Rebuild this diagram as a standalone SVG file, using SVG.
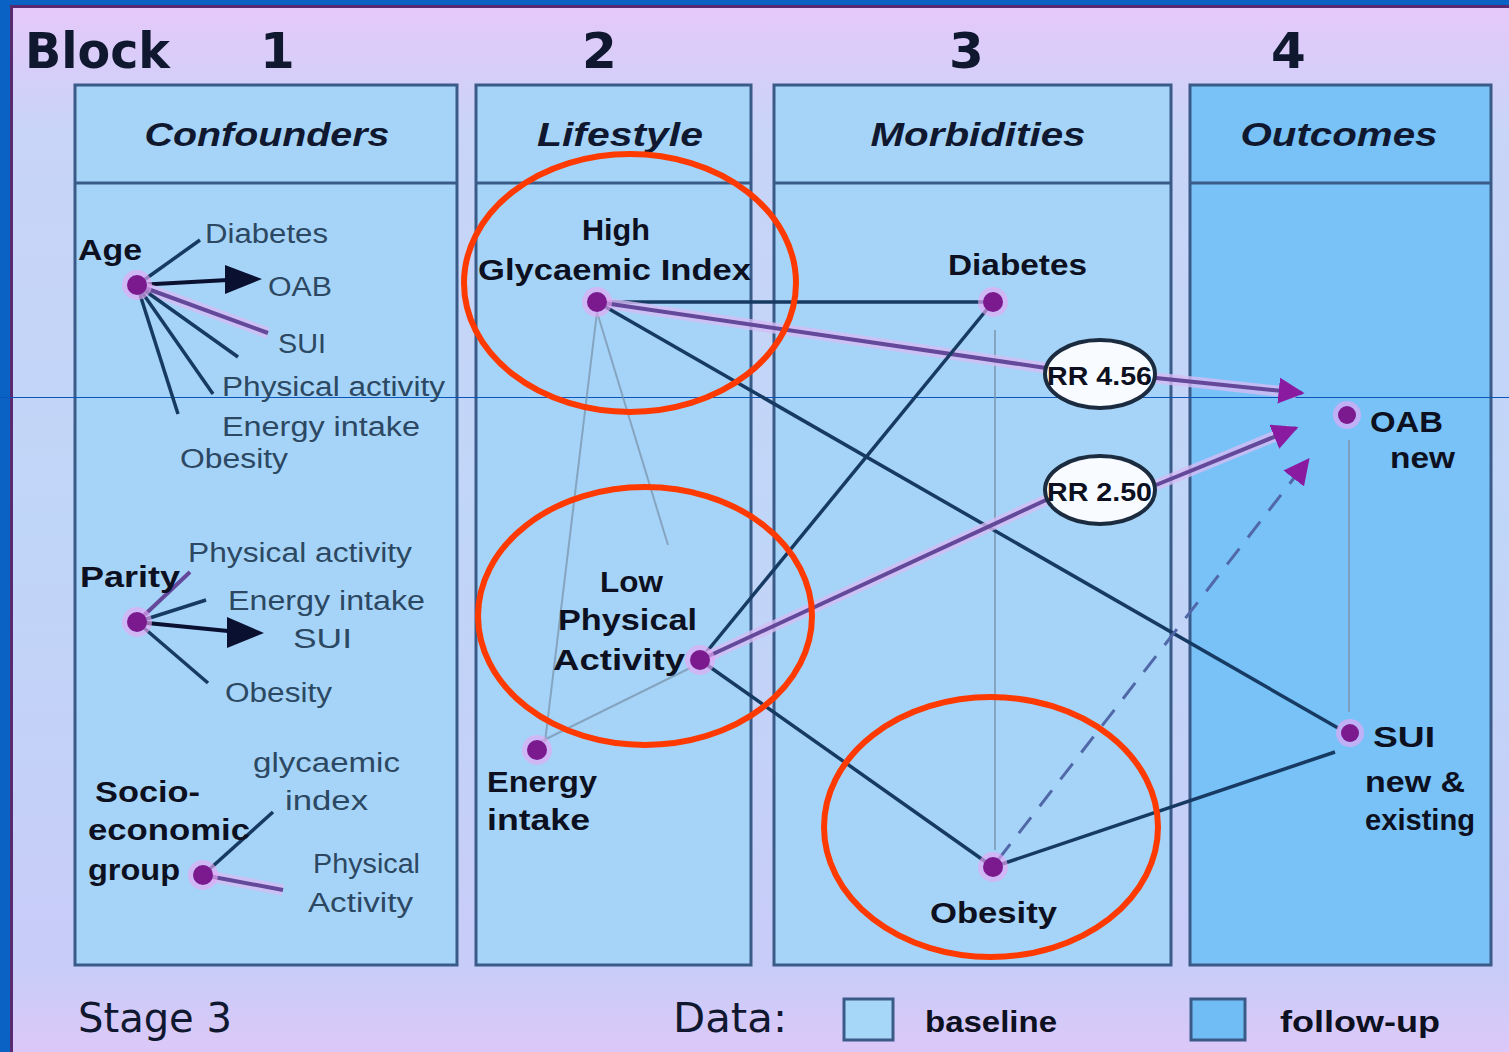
<svg xmlns="http://www.w3.org/2000/svg" width="1509" height="1052" viewBox="0 0 1509 1052">
  <defs>
    <linearGradient id="panelBg" x1="0" y1="0" x2="0" y2="1">
      <stop offset="0" stop-color="#e6c8fa"/>
      <stop offset="0.12" stop-color="#c8d4f8"/>
      <stop offset="0.5" stop-color="#c0d6f8"/>
      <stop offset="0.92" stop-color="#c8ccf8"/>
      <stop offset="1" stop-color="#dcc8f8"/>
    </linearGradient>
    <marker id="purpleHead" viewBox="0 0 10 10" refX="9" refY="5" markerWidth="26" markerHeight="26" markerUnits="userSpaceOnUse" orient="auto">
      <path d="M0,0 L10,5 L0,10 z" fill="#8a1aa0"/>
    </marker>
  </defs>
  <style>
    .col { fill: #a6d4f8; stroke: #3a5a88; stroke-width: 3; }
    .col4 { fill: #78c2f8; stroke: #3a5a88; stroke-width: 3; }
    .hdr { font-family: "Liberation Sans", Arial, sans-serif; font-size: 34px; font-weight: bold; font-style: italic; fill: #101830; text-anchor: middle; }
    .blk { font-family: "DejaVu Sans", "Liberation Sans", sans-serif; font-size: 50px; font-weight: bold; fill: #101830; }
    .sub { font-family: "Liberation Sans", Arial, sans-serif; font-size: 27px; fill: #2c4862; }
    .lbl { font-family: "Liberation Sans", Arial, sans-serif; font-size: 29px; font-weight: bold; fill: #0c1020; }
    .rr { font-family: "Liberation Sans", Arial, sans-serif; font-size: 25px; font-weight: bold; fill: #0c1020; }
    .foot { font-family: "DejaVu Sans", "Liberation Sans", sans-serif; font-size: 40px; fill: #101830; }
    .halo { fill: #e6a8f4; opacity: 0.65; }
    .dot { fill: #7a1a8e; }
    .dark { stroke: #163a62; stroke-width: 3.5; fill: none; }
    .purple { stroke: #64489a; stroke-width: 4; fill: none; }
    .glow { stroke: #d6bcf4; stroke-width: 11; fill: none; opacity: 0.8; }
    .dash { stroke: #5068a8; stroke-width: 3; fill: none; stroke-dasharray: 20 14; }
    .faint { stroke: #7a94ae; stroke-width: 2; fill: none; opacity: 0.75; }
    .ring { fill: none; stroke: #ff3a00; stroke-width: 6; }
  </style>

  <!-- slide background and panel -->
  <rect x="0" y="0" width="1509" height="1052" fill="#0a62c4"/>
  <rect x="10" y="5" width="1499" height="1047" fill="url(#panelBg)"/>
  <path d="M11.5,1052 V6.5 H1509" fill="none" stroke="#5a2a70" stroke-width="3"/>

  <!-- block numbers -->
  <g id="block-titles">
    <text class="blk" x="25" y="68" textLength="145" lengthAdjust="spacingAndGlyphs">Block</text>
    <text class="blk" x="260" y="68">1</text>
    <text class="blk" x="582" y="68">2</text>
    <text class="blk" x="949" y="68">3</text>
    <text class="blk" x="1271" y="68">4</text>
  </g>

  <!-- columns -->
  <g id="col-confounders">
    <rect class="col" x="75" y="85" width="382" height="880"/>
    <line x1="75" y1="183" x2="457" y2="183" stroke="#3a5a88" stroke-width="3"/>
    <text class="hdr" x="267" y="146" textLength="245" lengthAdjust="spacingAndGlyphs">Confounders</text>
  </g>
  <g id="col-lifestyle">
    <rect class="col" x="476" y="85" width="275" height="880"/>
    <line x1="476" y1="183" x2="751" y2="183" stroke="#3a5a88" stroke-width="3"/>
    <text class="hdr" x="620" y="146" textLength="166" lengthAdjust="spacingAndGlyphs">Lifestyle</text>
  </g>
  <g id="col-morbidities">
    <rect class="col" x="774" y="85" width="397" height="880"/>
    <line x1="774" y1="183" x2="1171" y2="183" stroke="#3a5a88" stroke-width="3"/>
    <text class="hdr" x="978" y="146" textLength="215" lengthAdjust="spacingAndGlyphs">Morbidities</text>
  </g>
  <g id="col-outcomes">
    <rect class="col4" x="1190" y="85" width="301" height="880"/>
    <line x1="1190" y1="183" x2="1491" y2="183" stroke="#3a5a88" stroke-width="3"/>
    <text class="hdr" x="1339" y="146" textLength="197" lengthAdjust="spacingAndGlyphs">Outcomes</text>
  </g>

  <!-- horizontal guide line -->
  <line x1="0" y1="397.5" x2="1509" y2="397.5" stroke="#0a56b8" stroke-width="1.2"/>

  <!-- connectors -->
  <g id="connectors">
    <!-- confounder fans -->
    <line class="dark" x1="137" y1="285" x2="200" y2="240"/>
    <line stroke="#0a1030" stroke-width="4" x1="137" y1="285" x2="228" y2="280"/>
    <polygon points="225,265 262,279 225,294" fill="#0a1030"/>
    <line class="glow" x1="137" y1="285" x2="268" y2="333"/>
    <line class="purple" x1="137" y1="285" x2="268" y2="333"/>
    <line class="dark" x1="137" y1="285" x2="238" y2="357"/>
    <line class="dark" x1="137" y1="285" x2="213" y2="394"/>
    <line class="dark" x1="137" y1="285" x2="178" y2="414"/>

    <line class="purple" x1="137" y1="622" x2="190" y2="572"/>
    <line class="dark" x1="137" y1="622" x2="206" y2="600"/>
    <line stroke="#0a1030" stroke-width="4" x1="137" y1="622" x2="228" y2="631"/>
    <polygon points="227,617 264,633 227,648" fill="#0a1030"/>
    <line class="dark" x1="137" y1="622" x2="208" y2="683"/>

    <line class="dark" x1="203" y1="875" x2="273" y2="812"/>
    <line class="glow" x1="203" y1="875" x2="283" y2="890"/>
    <line class="purple" x1="203" y1="875" x2="283" y2="890"/>

    <!-- faint links inside lifestyle -->
    <line class="faint" x1="597" y1="312" x2="545" y2="742"/>
    <line class="faint" x1="597" y1="312" x2="668" y2="545"/>
    <line class="faint" x1="540" y1="742" x2="690" y2="668"/>

    <!-- faint vertical links -->
    <line class="faint" x1="995" y1="330" x2="995" y2="850"/>
    <line class="faint" x1="1349" y1="440" x2="1349" y2="712"/>

    <!-- main paths -->
    <line class="dark" x1="597" y1="302" x2="993" y2="302"/>
    <line class="glow" x1="597" y1="302" x2="1046" y2="368"/>
    <line class="purple" x1="597" y1="302" x2="1046" y2="368"/>
    <line class="dark" x1="597" y1="302" x2="1338" y2="728"/>
    <line class="dark" x1="993" y1="302" x2="700" y2="660"/>
    <line class="glow" x1="700" y1="660" x2="1046" y2="500"/>
    <line class="purple" x1="700" y1="660" x2="1046" y2="500"/>
    <line class="dark" x1="700" y1="660" x2="993" y2="867"/>
    <line class="dark" x1="993" y1="867" x2="1335" y2="752"/>
    <line class="dash" x1="998" y1="860" x2="1308" y2="460" marker-end="url(#purpleHead)"/>
    <line class="glow" x1="1156" y1="378" x2="1296" y2="393"/>
    <line class="purple" x1="1156" y1="378" x2="1302" y2="393" marker-end="url(#purpleHead)"/>
    <line class="glow" x1="1156" y1="485" x2="1290" y2="430"/>
    <line class="purple" x1="1156" y1="485" x2="1296" y2="428" marker-end="url(#purpleHead)"/>
  </g>

  <!-- confounders -->
  <g id="node-age">
    <circle class="halo" cx="137" cy="285" r="15"/>
    <circle class="dot" cx="137" cy="285" r="10"/>
    <text class="lbl" x="78" y="260" textLength="64" lengthAdjust="spacingAndGlyphs">Age</text>
    <text class="sub" x="205" y="243" textLength="123" lengthAdjust="spacingAndGlyphs">Diabetes</text>
    <text class="sub" x="268" y="296" textLength="64" lengthAdjust="spacingAndGlyphs">OAB</text>
    <text class="sub" x="278" y="353" textLength="48" lengthAdjust="spacingAndGlyphs">SUI</text>
    <text class="sub" x="222" y="396" textLength="223" lengthAdjust="spacingAndGlyphs">Physical activity</text>
    <text class="sub" x="222" y="436" textLength="198" lengthAdjust="spacingAndGlyphs">Energy intake</text>
    <text class="sub" x="180" y="468" textLength="108" lengthAdjust="spacingAndGlyphs">Obesity</text>
  </g>
  <g id="node-parity">
    <circle class="halo" cx="137" cy="622" r="15"/>
    <circle class="dot" cx="137" cy="622" r="10"/>
    <text class="lbl" x="80" y="587" textLength="100" lengthAdjust="spacingAndGlyphs">Parity</text>
    <text class="sub" x="188" y="562" textLength="224" lengthAdjust="spacingAndGlyphs">Physical activity</text>
    <text class="sub" x="228" y="610" textLength="197" lengthAdjust="spacingAndGlyphs">Energy intake</text>
    <text class="sub" x="293" y="648" textLength="59" lengthAdjust="spacingAndGlyphs">SUI</text>
    <text class="sub" x="225" y="702" textLength="107" lengthAdjust="spacingAndGlyphs">Obesity</text>
  </g>
  <g id="node-ses">
    <circle class="halo" cx="203" cy="875" r="15"/>
    <circle class="dot" cx="203" cy="875" r="10"/>
    <text class="lbl" x="95" y="802" textLength="105" lengthAdjust="spacingAndGlyphs">Socio-</text>
    <text class="lbl" x="88" y="840" textLength="162" lengthAdjust="spacingAndGlyphs">economic</text>
    <text class="lbl" x="88" y="880" textLength="92" lengthAdjust="spacingAndGlyphs">group</text>
    <text class="sub" x="253" y="772" textLength="147" lengthAdjust="spacingAndGlyphs">glycaemic</text>
    <text class="sub" x="285" y="810" textLength="83" lengthAdjust="spacingAndGlyphs">index</text>
    <text class="sub" x="313" y="873" textLength="107" lengthAdjust="spacingAndGlyphs">Physical</text>
    <text class="sub" x="308" y="912" textLength="105" lengthAdjust="spacingAndGlyphs">Activity</text>
  </g>

  <!-- lifestyle -->
  <g id="node-high-gi">
    <circle class="halo" cx="597" cy="302" r="15"/>
    <circle class="dot" cx="597" cy="302" r="10"/>
    <text class="lbl" x="582" y="240" textLength="68" lengthAdjust="spacingAndGlyphs">High</text>
    <text class="lbl" x="478" y="280" textLength="273" lengthAdjust="spacingAndGlyphs">Glycaemic Index</text>
  </g>
  <g id="node-low-pa">
    <circle class="halo" cx="700" cy="660" r="15"/>
    <circle class="dot" cx="700" cy="660" r="10"/>
    <text class="lbl" x="600" y="592" textLength="63" lengthAdjust="spacingAndGlyphs">Low</text>
    <text class="lbl" x="558" y="630" textLength="139" lengthAdjust="spacingAndGlyphs">Physical</text>
    <text class="lbl" x="553" y="670" textLength="132" lengthAdjust="spacingAndGlyphs">Activity</text>
  </g>
  <g id="node-energy">
    <circle class="halo" cx="537" cy="750" r="15"/>
    <circle class="dot" cx="537" cy="750" r="10"/>
    <text class="lbl" x="487" y="792" textLength="110" lengthAdjust="spacingAndGlyphs">Energy</text>
    <text class="lbl" x="487" y="830" textLength="103" lengthAdjust="spacingAndGlyphs">intake</text>
  </g>

  <!-- morbidities -->
  <g id="node-diabetes">
    <circle class="halo" cx="993" cy="302" r="15"/>
    <circle class="dot" cx="993" cy="302" r="10"/>
    <text class="lbl" x="948" y="275" textLength="139" lengthAdjust="spacingAndGlyphs">Diabetes</text>
  </g>
  <g id="node-obesity">
    <circle class="halo" cx="993" cy="867" r="15"/>
    <circle class="dot" cx="993" cy="867" r="10"/>
    <text class="lbl" x="930" y="923" textLength="127" lengthAdjust="spacingAndGlyphs">Obesity</text>
  </g>
  <g id="node-rr456">
    <ellipse cx="1100" cy="374" rx="55" ry="34" fill="#f8fbff" stroke="#1c2c40" stroke-width="4"/>
    <text class="rr" x="1047" y="385" textLength="105" lengthAdjust="spacingAndGlyphs">RR 4.56</text>
  </g>
  <g id="node-rr250">
    <ellipse cx="1100" cy="490" rx="55" ry="34" fill="#f8fbff" stroke="#1c2c40" stroke-width="4"/>
    <text class="rr" x="1047" y="501" textLength="105" lengthAdjust="spacingAndGlyphs">RR 2.50</text>
  </g>

  <!-- outcomes -->
  <g id="node-oab">
    <circle class="halo" cx="1347" cy="415" r="14"/>
    <circle class="dot" cx="1347" cy="415" r="9"/>
    <text class="lbl" x="1370" y="432" textLength="73" lengthAdjust="spacingAndGlyphs">OAB</text>
    <text class="lbl" x="1390" y="468" textLength="65" lengthAdjust="spacingAndGlyphs">new</text>
  </g>
  <g id="node-sui">
    <circle class="halo" cx="1350" cy="733" r="14"/>
    <circle class="dot" cx="1350" cy="733" r="9"/>
    <text class="lbl" x="1373" y="747" textLength="62" lengthAdjust="spacingAndGlyphs">SUI</text>
    <text class="lbl" x="1365" y="792" textLength="100" lengthAdjust="spacingAndGlyphs">new &amp;</text>
    <text class="lbl" x="1365" y="830" textLength="110" lengthAdjust="spacingAndGlyphs">existing</text>
  </g>

  <!-- highlight rings -->
  <g id="highlights">
    <ellipse class="ring" cx="630" cy="283" rx="166" ry="129"/>
    <ellipse class="ring" cx="645" cy="616" rx="167" ry="129"/>
    <ellipse class="ring" cx="991" cy="827" rx="167" ry="130"/>
  </g>

  <!-- footer legend -->
  <g id="legend">
    <text class="foot" x="78" y="1032" textLength="154" lengthAdjust="spacingAndGlyphs">Stage 3</text>
    <text class="foot" x="673" y="1032" textLength="114" lengthAdjust="spacingAndGlyphs">Data:</text>
    <rect x="844" y="999" width="49" height="41" fill="#a6d6f8" stroke="#3a5a88" stroke-width="3"/>
    <text class="lbl" x="925" y="1032" textLength="132" lengthAdjust="spacingAndGlyphs">baseline</text>
    <rect x="1191" y="999" width="54" height="41" fill="#70bcf4" stroke="#3a5a88" stroke-width="3"/>
    <text class="lbl" x="1280" y="1032" textLength="160" lengthAdjust="spacingAndGlyphs">follow-up</text>
  </g>
</svg>
